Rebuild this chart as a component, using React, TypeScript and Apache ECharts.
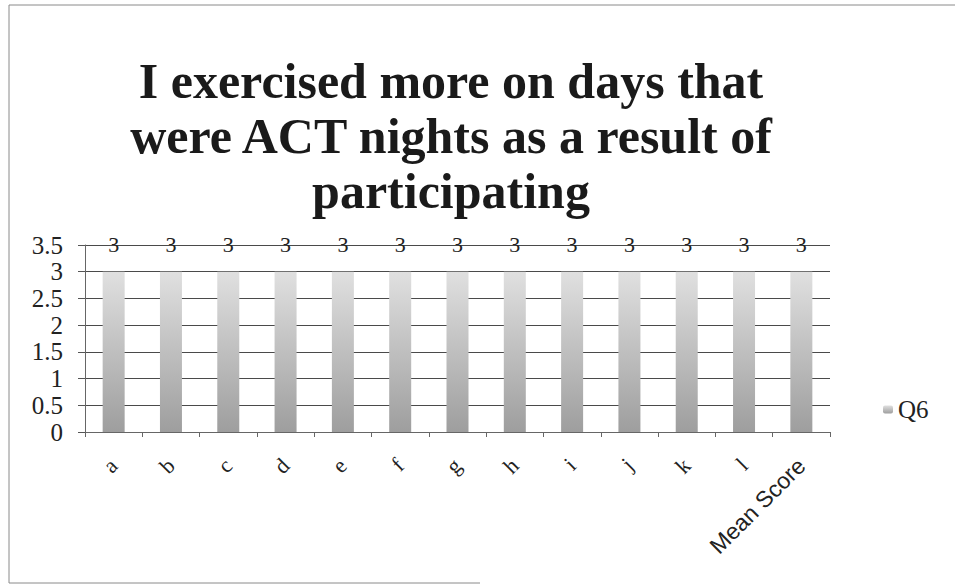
import React, { useEffect, useRef } from "react";
import * as echarts from "echarts";

const categories = ["a", "b", "c", "d", "e", "f", "g", "h", "i", "j", "k", "l", "Mean Score"];
const q6Values = [3, 3, 3, 3, 3, 3, 3, 3, 3, 3, 3, 3, 3];
const seriesName = "Q6";
const titleText = "I exercised more on days that\nwere ACT nights as a result of\nparticipating";

export default function App() {
  const ref = useRef<HTMLDivElement>(null);
  useEffect(() => {
    if (!ref.current) return;
    const chart = echarts.init(ref.current, null, { renderer: "svg" });
    chart.setOption({
      animation: false,
      backgroundColor: "#ffffff",
      title: {
        text: titleText,
        left: 446,
        textAlign: "center",
        top: 48,
        textStyle: {
          fontFamily: "Liberation Serif",
          fontWeight: "bold",
          fontSize: 50,
          lineHeight: 55,
          color: "#1a1a1a",
        },
      },
      legend: {
        left: 878,
        top: 392,
        itemWidth: 10,
        itemHeight: 8,
        itemGap: 6,
        data: [seriesName],
        textStyle: { fontFamily: "Liberation Serif", fontSize: 25, color: "#222" },
      },
      graphic: [
        {
          type: "polyline",
          shape: { points: [[955, 5], [9, 5], [9, 583], [480, 583]] },
          style: { fill: "none", stroke: "#8a8a8a", lineWidth: 1 },
        },
      ],
      grid: { left: 85, right: 129, top: 245, bottom: 153 },
      xAxis: {
        type: "category",
        data: categories,
        axisLine: { lineStyle: { color: "#666" } },
        axisTick: { show: true, length: 5, lineStyle: { color: "#666" } },
        axisLabel: {
          rotate: 45,
          fontFamily: "Liberation Serif",
          fontSize: 22,
          color: "#222",
          margin: 30,
          formatter: (v: string) => (v === "Mean Score" ? `{s|${v}}` : v),
          rich: {
            s: { fontFamily: "Liberation Sans", fontSize: 23, color: "#222" },
          },
        },
      },
      yAxis: {
        type: "value",
        min: 0,
        max: 3.5,
        interval: 0.5,
        axisLine: { show: true, lineStyle: { color: "#666" } },
        axisTick: { show: true, length: 7, lineStyle: { color: "#555" } },
        splitLine: { lineStyle: { color: "#4a4a4a", width: 1 } },
        axisLabel: {
          fontFamily: "Liberation Serif",
          fontSize: 25,
          color: "#222",
          margin: 22,
        },
      },
      series: [
        {
          name: seriesName,
          type: "bar",
          data: q6Values,
          barWidth: 22,
          itemStyle: {
            color: new echarts.graphic.LinearGradient(0, 0, 0, 1, [
              { offset: 0, color: "#e0e0e0" },
              { offset: 1, color: "#9e9e9e" },
            ]),
          },
          label: {
            show: true,
            position: "top",
            distance: 16,
            fontFamily: "Liberation Serif",
            fontSize: 22,
            color: "#222",
          },
        },
      ],
    });
    return () => chart.dispose();
  }, []);
  return (
    <div
      ref={ref}
      style={{ position: "absolute", left: 0, top: 0, width: 959, height: 585 }}
    />
  );
}
